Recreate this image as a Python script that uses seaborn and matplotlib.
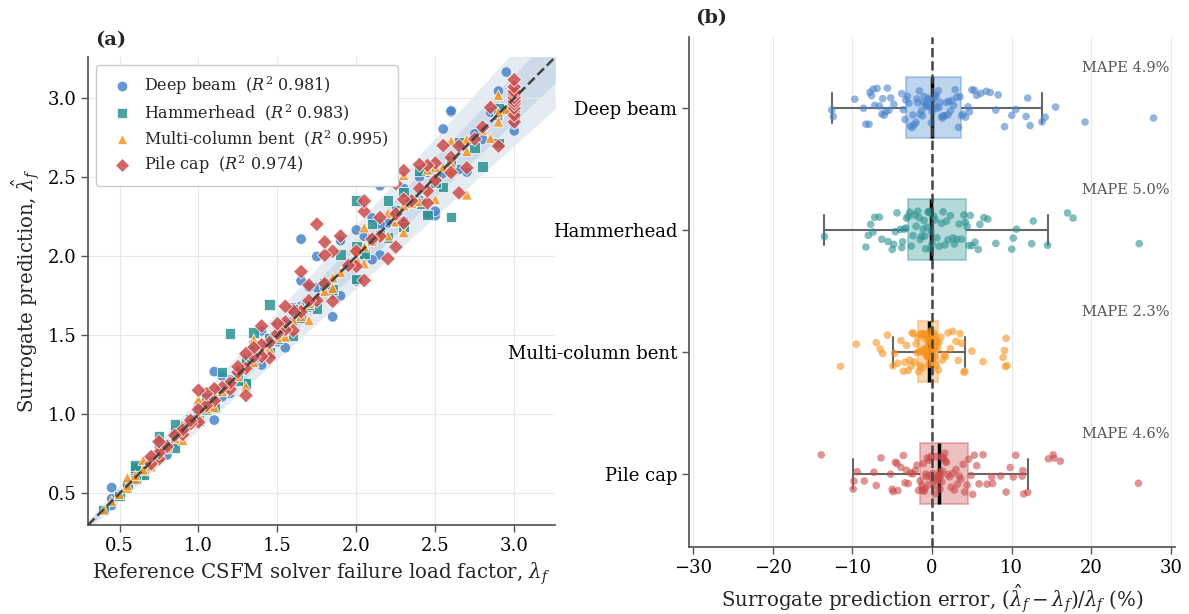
import numpy as np
import pandas as pd
import seaborn as sns
import matplotlib.pyplot as plt

# %% data
groups = ["Deep beam", "Hammerhead", "Multi-column bent", "Pile cap"]
colors = ["#4a84cc", "#2a9391", "#f7931e", "#cc4c4c"]
markers = ["o", "s", "^", "D"]
r2 = [0.981, 0.983, 0.995, 0.974]
mape = [4.9, 5.0, 2.3, 4.6]

# relative error (%) of each surrogate prediction, with its reference lambda_f
deep_err = [-12.6, -12.4, -9.7, -8.6, -8.3, -7.9, -7.8, -7.6, -7.4, -7.2,
            -6.9, -6.6, -6.3, -6.2, -6.0, -5.8, -5.6, -5.4, -5.2, -4.8,
            -1.9, -1.2, -0.7, -3.8, -3.6, -3.4, -3.3, -3.1, -2.9, -2.7,
            -2.5, -2.4, -2.2, -2.0, -1.8, -1.6, -1.5, -1.3, -1.1, -1.0,
            -0.8, -0.6, -0.5, -0.3, -0.2, -0.1, 0.0, 0.1, 0.2, 0.3,
            0.4, 0.5, 0.6, 0.8, 0.9, 1.0, 1.2, 1.3, 1.5, 1.6,
            1.8, 2.0, 2.1, 2.3, 2.5, 2.7, 2.9, 3.1, 3.3, 3.5,
            3.7, 3.9, 4.2, 4.5, 4.7, 5.0, 5.3, 5.6, 6.1, 6.8,
            7.3, 8.0, 8.3, 9.1, 10.0, 10.5, 11.8, 12.0, 12.3, 13.8,
            14.2, 15.5, 19.2, 27.8]
deep_ref = [1.85, 1.1, 2.5, 2.5, 1.55, 1.9, 2.0, 1.3, 2.45, 0.8,
            3.0, 2.15, 1.4, 2.7, 0.45, 2.1, 1.2, 3.0, 0.65, 1.85,
            2.4, 1.0, 1.6, 2.65, 0.85, 1.15, 2.3, 3.0, 0.6, 1.5,
            2.05, 1.05, 2.8, 0.75, 1.35, 2.25, 0.5, 1.7, 2.55, 0.9,
            1.25, 1.95, 2.9, 0.7, 1.45, 2.35, 1.0, 1.8, 2.6, 0.55,
            1.1, 2.2, 1.4, 0.95, 2.75, 1.55, 0.8, 2.0, 1.2, 2.5,
            0.6, 1.65, 2.85, 1.05, 2.15, 0.9, 1.75, 1.3, 2.45, 0.45,
            2.05, 1.5, 2.4, 0.85, 1.6, 2.9, 1.0, 2.3, 1.7, 2.1,
            2.95, 1.15, 2.0, 1.4, 2.55, 1.9, 1.65, 2.6, 2.6, 2.15,
            1.75, 1.1, 0.45, 1.65]

ham_err = [-13.5, -8.3, -8.0, -7.7, -7.4, -7.2, -6.6, -6.3, -5.5, -5.0,
           -4.8, -4.6, -4.4, -4.0, -3.8, -3.7, -3.5, -3.3, -3.2, -3.0,
           -2.8, -2.6, -2.4, -2.2, -2.0, -1.8, -1.6, -1.5, -1.3, -1.1,
           -1.0, -0.9, -0.8, -0.6, -0.5, -0.4, -0.3, -0.2, -0.1, 0.0,
           0.2, 0.4, 0.6, 0.9, 1.2, 1.4, 1.6, 1.8, 2.0, 2.3,
           2.6, 2.8, 3.1, 3.4, 3.7, 4.0, 4.2, 4.4, 4.6, 4.8,
           5.0, 5.4, 5.8, 6.0, 6.5, 7.0, 8.0, 10.0, 10.2, 10.6,
           12.7, 12.5, 14.5, 17.0, 17.7, 26.0]
ham_ref = [2.6, 2.8, 1.3, 2.45, 0.85, 2.0, 1.6, 2.9, 1.1, 2.3,
           0.65, 1.75, 2.55, 1.45, 1.0, 2.2, 3.0, 0.5, 1.85, 1.25,
           2.4, 0.75, 1.65, 2.75, 1.05, 2.05, 0.4, 1.5, 2.5, 0.9,
           1.4, 2.15, 0.6, 2.95, 1.2, 1.7, 2.35, 0.8, 1.55, 2.6,
           1.15, 0.7, 2.1, 1.35, 2.9, 0.55, 1.8, 2.25, 0.95, 1.45,
           2.65, 0.6, 2.0, 1.3, 0.85, 2.45, 1.6, 0.65, 2.3, 1.05,
           2.1, 0.75, 1.9, 2.4, 1.35, 2.2, 0.6, 0.85, 1.15, 0.6,
           0.6, 1.35, 0.75, 1.45, 2.0, 1.2]

multi_err = [-11.5, -9.5, -7.0, -6.5, -6.2, -5.6, -4.9, -4.7, -4.3, -3.9,
             -3.6, -3.4, -3.2, -3.0, -2.8, -2.6, -2.5, -2.3, -2.2, -2.0,
             -1.9, -1.8, -1.7, -1.6, -1.5, -1.4, -1.3, -1.3, -1.2, -1.1,
             -1.0, -1.0, -0.9, -0.9, -0.8, -0.8, -0.7, -0.7, -0.6, -0.6,
             -0.5, -0.5, -0.4, -0.4, -0.3, -0.3, -0.3, -0.2, -0.2, -0.1,
             -0.1, -0.1, 0.0, 0.0, 0.0, 0.1, 0.1, 0.2, 0.2, 0.3,
             0.4, 0.4, 0.5, 0.5, 0.6, 0.7, 0.8, 0.9, 1.1, 1.3,
             1.5, 1.7, 2.0, 2.3, 2.6, 3.0, 3.3, 3.5, 3.7, 4.0,
             4.1, 5.0, 6.4, 8.9, 9.1, 9.2, 9.3, 9.4]
multi_ref = [2.7, 1.3, 0.9, 2.3, 1.7, 2.5, 1.1, 2.05, 0.7, 1.55,
             2.85, 1.2, 2.2, 0.55, 1.85, 2.6, 1.0, 1.45, 2.4, 0.8,
             2.0, 1.65, 2.9, 0.6, 1.35, 2.25, 1.05, 2.7, 0.5, 1.8,
             2.45, 0.95, 1.5, 2.15, 0.65, 1.25, 2.95, 1.75, 0.4, 2.35,
             1.15, 2.0, 0.75, 1.6, 2.6, 1.4, 0.85, 2.1, 3.0, 1.0,
             2.5, 1.9, 0.55, 1.3, 2.8, 1.7, 0.65, 2.25, 1.1, 2.9,
             1.55, 0.45, 2.05, 1.2, 2.55, 0.7, 1.85, 2.3, 1.4, 0.9,
             2.7, 1.65, 2.0, 0.6, 2.5, 1.05, 2.2, 1.5, 0.75, 2.45,
             2.9, 2.6, 2.05, 0.55, 1.35, 2.3, 0.65, 1.0]

pile_err = [-13.9, -9.9, -9.8, -9.4, -8.5, -7.3, -7.0, -6.4, -5.2, -5.0,
            -4.9, -4.6, -4.4, -4.3, -3.9, -3.6, -3.4, -3.2, -3.0, -2.7,
            -2.4, -2.1, -1.9, -1.7, -1.5, -1.3, -1.2, -1.1, -1.0, -0.9,
            -0.8, -0.7, -0.6, -0.5, -0.4, -0.3, -0.2, -0.1, 0.0, 0.1,
            0.2, 0.3, 0.4, 0.5, 0.6, 0.7, 0.8, 0.8, 0.9, 1.0,
            1.0, 1.1, 1.2, 1.2, 1.3, 1.4, 1.5, 1.6, 1.7, 1.8,
            2.0, 2.2, 2.4, 2.6, 2.8, 3.0, 3.2, 3.4, 3.6, 3.9,
            4.1, 4.4, 4.6, 4.9, 5.1, 5.3, 5.6, 5.9, 6.4, 6.9,
            7.5, 7.6, 8.6, 9.3, 9.8, 10.2, 10.5, 11.3, 11.4, 11.5,
            12.0, 14.6, 15.2, 15.3, 16.1, 25.9]
pile_ref = [1.3, 2.05, 2.2, 2.65, 2.25, 1.85, 2.9, 1.45, 2.7, 3.0,
            1.0, 2.45, 1.6, 0.75, 2.3, 3.0, 1.2, 2.0, 0.9, 2.6,
            1.4, 3.0, 0.7, 1.75, 2.45, 1.1, 3.0, 2.15, 0.95, 1.55,
            2.5, 1.3, 3.0, 0.8, 1.95, 2.75, 1.2, 1.65, 2.35, 3.0,
            0.9, 1.45, 2.1, 1.05, 2.8, 1.5, 0.75, 2.25, 3.0, 1.35,
            2.6, 1.7, 0.95, 2.4, 1.25, 3.0, 1.8, 2.0, 1.15, 2.65,
            0.85, 1.55, 3.0, 2.3, 1.4, 1.0, 2.85, 1.6, 2.5, 3.0,
            1.25, 2.15, 0.7, 1.5, 2.45, 1.35, 1.1, 2.55, 1.3, 1.7,
            2.4, 1.05, 1.55, 2.25, 1.85, 0.75, 2.3, 1.4, 2.05, 1.8,
            1.9, 2.05, 1.0, 1.65, 1.8, 1.75]

errs = [deep_err, ham_err, multi_err, pile_err]
refs = [deep_ref, ham_ref, multi_ref, pile_ref]

# %% tidy frame
frames = []
for g, e, r in zip(groups, errs, refs):
    assert len(e) == len(r), g
    e = np.array(e)
    r = np.array(r)
    frames.append(pd.DataFrame({"group": g, "err": e, "ref": r,
                                "pred": r * (1 + e / 100)}))
df = pd.concat(frames, ignore_index=True)
palette = dict(zip(groups, colors))

# %% style
sns.set_theme(style="ticks")
plt.rcParams["font.family"] = ["DejaVu Serif"]
plt.rcParams["mathtext.fontset"] = "dejavuserif"
plt.rcParams["axes.edgecolor"] = "#555555"
plt.rcParams["xtick.color"] = "#555555"
plt.rcParams["ytick.color"] = "#555555"
plt.rcParams["xtick.labelcolor"] = "black"
plt.rcParams["ytick.labelcolor"] = "black"

fig = plt.figure(figsize=(11.89, 6.14), dpi=100)
ax1 = fig.add_axes([0.074, 0.145, 0.393, 0.762])
ax2 = fig.add_axes([0.5795, 0.109, 0.4088, 0.8306])

# %% (a) parity plot
lo, hi = 0.3, 3.26
xs = np.array([lo, hi])
ax1.fill_between(xs, xs * 0.9, xs * 1.1, color="#5b84b8", alpha=0.16, lw=0, zorder=0)
ax1.fill_between(xs, xs * 0.95, xs * 1.05, color="#5b84b8", alpha=0.16, lw=0, zorder=0)
ax1.plot(xs, xs, ls="--", color="#444444", lw=1.8, zorder=3)

sns.scatterplot(data=df, x="ref", y="pred", hue="group", style="group",
                hue_order=groups, style_order=groups, palette=palette,
                markers=dict(zip(groups, markers)), s=58, alpha=0.85,
                edgecolor="white", linewidth=0.6, ax=ax1, zorder=2)

ax1.set_xlim(lo, hi)
ax1.set_ylim(lo, hi)
ax1.set_xticks(np.arange(0.5, 3.01, 0.5))
ax1.set_yticks(np.arange(0.5, 3.01, 0.5))
ax1.grid(True, color="#e8e8e8", lw=0.8)
ax1.set_axisbelow(True)
ax1.tick_params(labelsize=13, length=5, width=1)
ax1.set_xlabel(r"Reference CSFM solver failure load factor, $\lambda_f$", fontsize=14.2)
ax1.set_ylabel(r"Surrogate prediction, $\hat{\lambda}_f$", fontsize=14.2)

handles, _ = ax1.get_legend_handles_labels()
labels = [f"{g}  ($R^2$ {v:.3f})" for g, v in zip(groups, r2)]
ax1.legend(handles, labels, loc="upper left", fontsize=11.5, frameon=True,
           edgecolor="#cccccc", framealpha=1, borderpad=0.6,
           handletextpad=0.4, labelspacing=0.3, markerscale=1.0)
sns.despine(ax=ax1)

# %% (b) error distribution
np.random.seed(3)
sns.boxplot(data=df, x="err", y="group", hue="group", order=groups,
            hue_order=groups, palette=palette, orient="h", width=0.5,
            showfliers=False, saturation=1, linecolor="#666666", linewidth=1.5,
            boxprops=dict(alpha=0.35),
            medianprops=dict(color="black", linewidth=2.5),
            legend=False, ax=ax2, zorder=2)
for patch, c in zip(ax2.patches, colors):
    patch.set_edgecolor(c)
sns.stripplot(data=df, x="err", y="group", hue="group", order=groups,
              hue_order=groups, palette=palette, orient="h", jitter=0.17,
              size=5.5, alpha=0.6, linewidth=0, legend=False, ax=ax2, zorder=3)
ax2.axvline(0, ls="--", color="#444444", lw=1.8, zorder=4)

for i, m in enumerate(mape):
    ax2.text(29.8, i - 0.33, f"MAPE {m:.1f}%", ha="right", va="center",
             fontsize=10.5, color="#555555")

ax2.set_xlim(-30.5, 30.5)
ax2.set_ylim(3.6, -0.58)
ax2.set_xticks(np.arange(-30, 31, 10))
ax2.grid(True, axis="x", color="#e8e8e8", lw=0.8)
ax2.set_axisbelow(True)
ax2.tick_params(labelsize=13, length=5, width=1)
ax2.set_ylabel("")
ax2.set_xlabel(r"Surrogate prediction error, $(\hat{\lambda}_f - \lambda_f)/\lambda_f$ (%)",
               fontsize=14.2)
sns.despine(ax=ax2)

fig.text(0.08, 0.935, "(a)", fontsize=14, fontweight="bold", va="center")
fig.text(0.585, 0.971, "(b)", fontsize=14, fontweight="bold", va="center")

fig.savefig("out.png", dpi=100)
